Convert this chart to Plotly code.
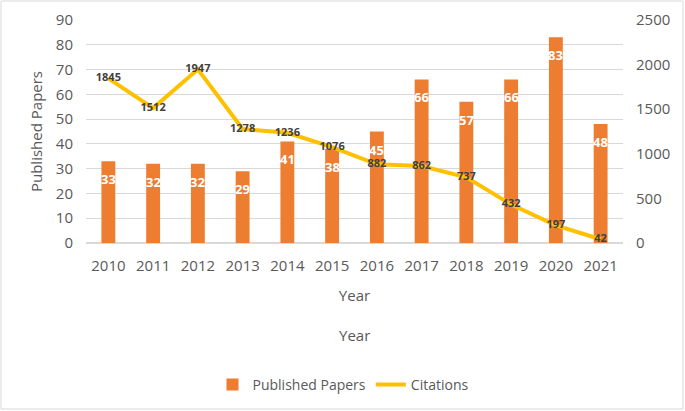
import plotly.graph_objects as go

years = ["2010", "2011", "2012", "2013", "2014", "2015", "2016", "2017", "2018", "2019", "2020", "2021"]
papers = [33, 32, 32, 29, 41, 38, 45, 66, 57, 66, 83, 48]
citations = [1845, 1512, 1947, 1278, 1236, 1076, 882, 862, 737, 432, 197, 42]

FONT = "Open Sans"
GRAY = "#595959"

fig = go.Figure()
fig.add_trace(go.Bar(
    x=years, y=papers, name="Published Papers",
    marker=dict(color="#ED7D31", line=dict(width=0)),
    width=0.31, yaxis="y",
))
fig.add_trace(go.Scatter(
    x=years, y=citations, name="Citations", yaxis="y2",
    mode="lines+text", line=dict(color="#FFC000", width=4),
    text=[str(v) for v in citations], textposition="middle center",
    textfont=dict(family=FONT, size=11, color="#404040", weight="bold"),
))

annotations = []
for i, v in enumerate(papers):
    # category axis: annotation x given as category index
    annotations.append(dict(
        x=i, y=v, xref="x", yref="y", text=str(v), showarrow=False,
        yshift=-18, font=dict(family=FONT, size=13, color="white", weight="bold"),
    ))

L, R, T, B = 86, 62, 20, 168
W, H = 685, 411
pw, ph = W - L - R, H - T - B

annotations.append(dict(
    x=0.5, y=(T + ph - 335) / ph, xref="paper", yref="paper", text="Year", showarrow=False,
    xanchor="center", yanchor="middle",
    font=dict(family=FONT, size=15, color=GRAY),
))

fig.update_layout(
    width=W, height=H,
    margin=dict(l=L, r=R, t=T, b=B, autoexpand=False),
    paper_bgcolor="white", plot_bgcolor="white",
    font=dict(family=FONT, color=GRAY),
    showlegend=True,
    legend=dict(orientation="h", x=343 / W, y=1 - 385 / H, xref="container", yref="container",
                xanchor="center", yanchor="middle",
                font=dict(family=FONT, size=14, color=GRAY)),
    xaxis=dict(type="category", range=[-0.5, len(years) - 0.5], showgrid=False, showline=False,
               ticks="", tickfont=dict(size=15, color=GRAY), automargin=False,
               ticklabelstandoff=12,
               title=dict(text="Year", font=dict(size=15, color=GRAY), standoff=16),
               zeroline=False),
    yaxis=dict(range=[0, 90], dtick=10, gridcolor="#D9D9D9", gridwidth=1, automargin=False,
               tickfont=dict(size=15, color=GRAY), ticklabelstandoff=12,
               title=dict(text="Published Papers", font=dict(size=15, color=GRAY), standoff=9),
               zeroline=True, zerolinecolor="#D9D9D9", showline=False),
    yaxis2=dict(range=[0, 2500], dtick=500, overlaying="y", side="right", showgrid=False,
                automargin=False,
                tickfont=dict(size=15, color=GRAY), ticklabelstandoff=12, zeroline=False),
    annotations=annotations,
    shapes=[dict(type="rect", xref="paper", yref="paper",
                 x0=(1 - L) / pw, x1=(W - 2 - L) / pw,
                 y0=(T + ph - (H - 2)) / ph, y1=(T + ph - 1) / ph,
                 line=dict(color="#D9D9D9", width=1), layer="below")],
)

fig.write_html("out.html", config={"displayModeBar": False},
               post_script="document.body.style.margin='0px';")
